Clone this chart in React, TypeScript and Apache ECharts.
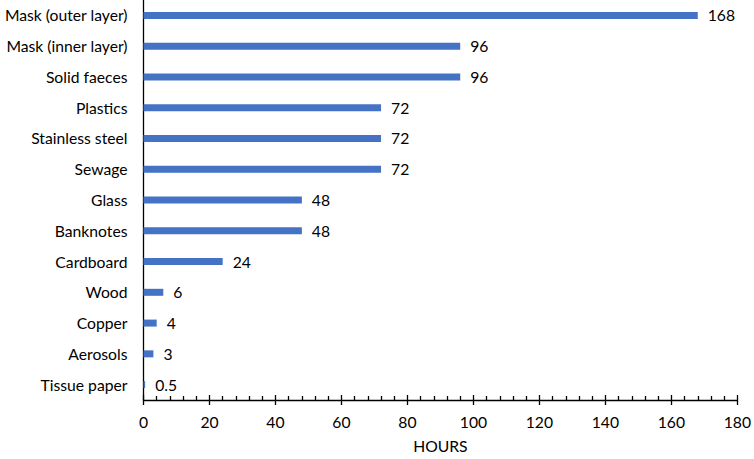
import React, { useEffect, useRef } from "react";
import * as echarts from "echarts";

const categories = [
  "Mask (outer layer)",
  "Mask (inner layer)",
  "Solid faeces",
  "Plastics",
  "Stainless steel",
  "Sewage",
  "Glass",
  "Banknotes",
  "Cardboard",
  "Wood",
  "Copper",
  "Aerosols",
  "Tissue paper",
];
const hours = [168, 96, 96, 72, 72, 72, 48, 48, 24, 6, 4, 3, 0.5];
const xTicks = [0, 20, 40, 60, 80, 100, 120, 140, 160, 180];

const FONT = "Lato";
const FS = 15.7;

export default function App() {
  const ref = useRef<HTMLDivElement>(null);
  useEffect(() => {
    if (!ref.current) return;
    const chart = echarts.init(ref.current, null, { renderer: "svg" });
    chart.setOption({
      animation: false,
      textStyle: { fontFamily: FONT },
      grid: { left: 143.5, right: 13.5, top: 0, bottom: 59 },
      xAxis: [
        {
          type: "value",
          min: xTicks[0],
          max: xTicks[xTicks.length - 1],
          interval: 20,
          position: "bottom",
          name: "HOURS",
          nameLocation: "middle",
          nameGap: 38,
          nameTextStyle: { color: "#000", fontSize: FS, fontFamily: FONT },
          axisLine: { show: true, lineStyle: { color: "#000", width: 1.3 } },
          axisTick: { show: true, inside: false, length: 5, lineStyle: { color: "#000", width: 1.3 } },
          axisLabel: { color: "#000", fontSize: FS, fontFamily: FONT, margin: 14 },
          splitLine: { show: false },
        },
        {
          type: "value",
          min: xTicks[0],
          max: xTicks[xTicks.length - 1],
          interval: 20,
          position: "bottom",
          axisLine: { show: false },
          axisTick: { show: true, inside: true, length: 5, lineStyle: { color: "#000", width: 1.3 } },
          minorTick: { show: true, splitNumber: 5, length: 4, lineStyle: { color: "#000", width: 1.3 } },
          axisLabel: { show: false },
          splitLine: { show: false },
        },
      ],
      yAxis: {
        type: "category",
        data: categories,
        inverse: true,
        axisLine: { show: true, lineStyle: { color: "#000", width: 1.3 } },
        axisTick: { show: false },
        axisLabel: { color: "#000", fontSize: FS, fontFamily: FONT, margin: 16 },
      },
      series: [
        {
          type: "bar",
          data: hours,
          xAxisIndex: 0,
          barWidth: 7,
          itemStyle: { color: "#4472C4" },
          label: {
            show: true,
            position: "right",
            distance: 10,
            color: "#000",
            fontSize: FS,
            fontFamily: FONT,
          },
        },
      ],
    });
    return () => chart.dispose();
  }, []);
  return <div ref={ref} style={{ width: 754, height: 459, position: "absolute", left: 0, top: 0 }} />;
}
